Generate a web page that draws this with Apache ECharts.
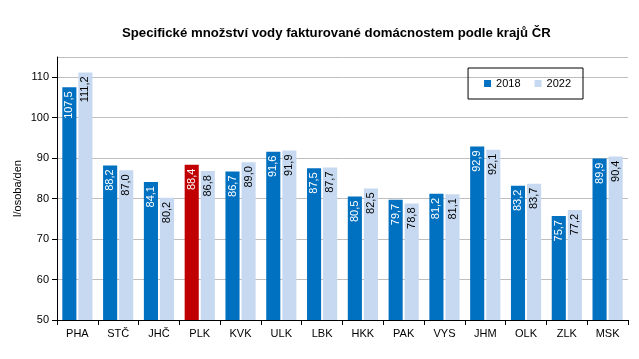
<!DOCTYPE html>
<html><head><meta charset="utf-8">
<script src="https://cdn.jsdelivr.net/npm/echarts@6/dist/echarts.min.js"></script>
<style>html,body{margin:0;padding:0;background:#fff}#c{width:639px;height:359px}</style>
</head><body><div id="c"></div>
<script>
const categories = ['PHA','STČ','JHČ','PLK','KVK','ULK','LBK','HKK','PAK','VYS','JHM','OLK','ZLK','MSK'];
const values2018 = [107.5,88.2,84.1,88.4,86.7,91.6,87.5,80.5,79.7,81.2,92.9,83.2,75.7,89.9];
const values2022 = [111.2,87.0,80.2,86.8,89.0,91.9,87.7,82.5,78.8,81.1,92.1,83.7,77.2,90.4];
const highlightIndex = 3;
const seriesNames = ['2018','2022'];

const fmt = p => p.value.toFixed(1).replace('.', ',');
const chart = echarts.init(document.getElementById('c'));
chart.setOption({
  animation:false,
  textStyle:{fontFamily:'Liberation Sans, Arial, sans-serif'},
  title:{text:'Specifické množství vody fakturované domácnostem podle krajů ČR',left:117,top:22,
    textStyle:{fontSize:13.2,fontWeight:'bold',color:'#000'}},
  legend:{data:seriesNames,right:56,top:68,width:106,height:32,orient:'horizontal',
    borderColor:'#000',borderWidth:1,padding:[10,12,10,16],itemWidth:7,itemHeight:7,itemGap:14,
    icon:'rect',textStyle:{fontSize:11,color:'#000'}},
  grid:{left:57,right:11,top:57,bottom:39},
  xAxis:{type:'category',data:categories,
    axisLine:{lineStyle:{color:'#000'}},
    axisTick:{show:true,inside:false,length:5,lineStyle:{color:'#000'}},
    axisLabel:{fontSize:11,color:'#000',margin:8}},
  yAxis:{type:'value',min:50,max:115,interval:10,name:'l/osoba/den',nameLocation:'middle',nameGap:34,
    nameMoveOverlap:false,
    nameTextStyle:{fontSize:11,color:'#000'},
    axisLine:{show:true,lineStyle:{color:'#000'}},
    axisTick:{show:true,length:5,lineStyle:{color:'#000'}},
    axisLabel:{fontSize:11,color:'#000',showMaxLabel:false},
    splitLine:{lineStyle:{color:'#BEBEBE'}}},
  series:[
    {name:seriesNames[0],type:'bar',barGap:'14%',barCategoryGap:'26%',
     itemStyle:{color:'#0070C0'},
     data:values2018.map((v,i)=>i===highlightIndex?{value:v,itemStyle:{color:'#C00000'}}:v),
     label:{show:true,position:'insideTop',rotate:90,align:'right',verticalAlign:'middle',distance:4,
       formatter:fmt,color:'#fff',fontSize:11}},
    {name:seriesNames[1],type:'bar',itemStyle:{color:'#C6D9F1'},data:values2022,
     label:{show:true,position:'insideTop',rotate:90,align:'right',verticalAlign:'middle',distance:4,
       formatter:fmt,color:'#000',fontSize:11}}
  ]
});
</script></body></html>
